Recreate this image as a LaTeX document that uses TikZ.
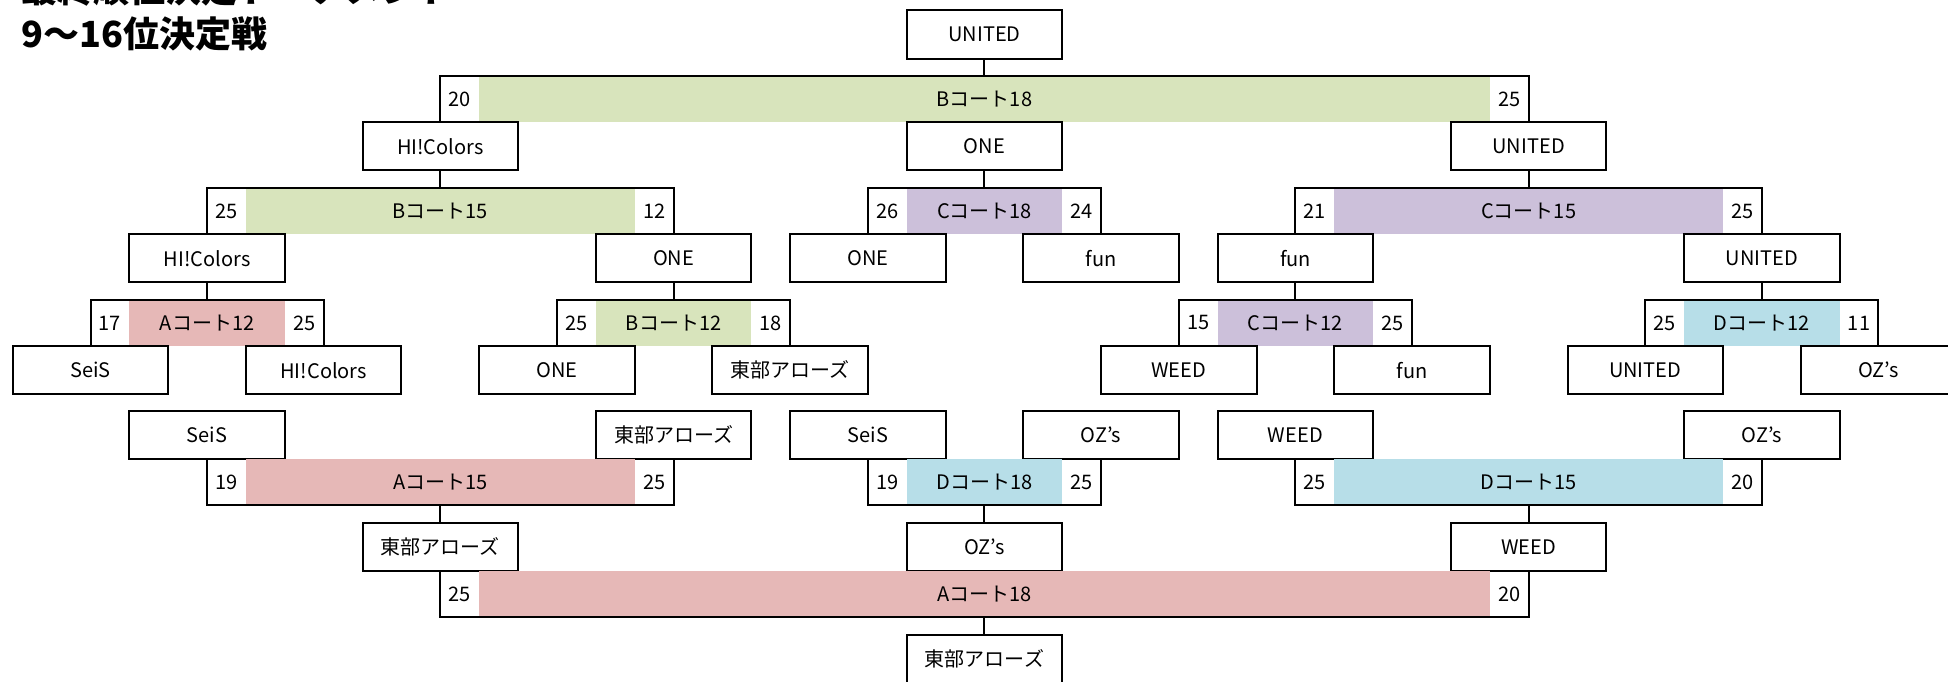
\documentclass[tikz,border=0pt]{standalone}
\usepackage{fontspec}
\setmainfont{Noto Sans CJK JP}
\usetikzlibrary{positioning}

\definecolor{courtA}{HTML}{E6B8B7}
\definecolor{courtB}{HTML}{D8E4BC}
\definecolor{courtC}{HTML}{CCC0DA}
\definecolor{courtD}{HTML}{B7DEE8}

\begin{document}
\begin{tikzpicture}[x=19.435pt, y=-0.5pt, line width=1pt, font=\fontsize{10pt}{12pt}\selectfont]
		\tikzstyle{team}=[draw=black, minimum width=77.74pt, minimum height=24.25pt, inner sep=0pt, outer sep=0pt]
		\tikzstyle{score}=[minimum width=19.435pt, minimum height=23pt, inner sep=0pt, outer sep=0pt]
		\tikzstyle{court}=[minimum height=23pt, inner sep=0pt, outer sep=0pt]
		\tikzstyle{heading}=[anchor=base west, inner sep=0pt, font=\bfseries\fontsize{18pt}{18pt}\selectfont]
		
		\useasboundingbox (-0.329,0) rectangle (49.79,682);
		\clip (-0.329,0) rectangle (49.79,682);
		
		\node[heading] (title1) at (0.2,2)  {最終順位決定トーナメント};
		\node[heading] (title2) at (0.2,47) {9〜16位決定戦};
		
		% upper bracket
		\node[team] (U) at (25,34.25) {UNITED};
		\node[court, fill=courtB, minimum width=505.31pt] (B18) at (25,99) {Bコート18};
		\node[score, left=0pt of B18]  (B18l) {20};
		\node[score, right=0pt of B18] (B18r) {25};
		
		\node[team] (HI2)  at (11,146.25) {HI!Colors};
		\node[team] (ONE2) at (25,146.25) {ONE};
		\node[team] (UN2)  at (39,146.25) {UNITED};
		
		\node[court, fill=courtB, minimum width=194.35pt] (B15) at (11,211) {Bコート15};
		\node[score, left=0pt of B15]  (B15l) {25};
		\node[score, right=0pt of B15] (B15r) {12};
		\node[court, fill=courtC, minimum width=77.74pt] (C18) at (25,211) {Cコート18};
		\node[score, left=0pt of C18]  (C18l) {26};
		\node[score, right=0pt of C18] (C18r) {24};
		\node[court, fill=courtC, minimum width=194.35pt] (C15) at (39,211) {Cコート15};
		\node[score, left=0pt of C15]  (C15l) {21};
		\node[score, right=0pt of C15] (C15r) {25};
		
		\node[team] (HI3)  at (5,258.25)  {HI!Colors};
		\node[team] (ONE3) at (17,258.25) {ONE};
		\node[team] (ONE3b) at (22,258.25) {ONE};
		\node[team] (FUN3b) at (28,258.25) {fun};
		\node[team] (FUN3) at (33,258.25) {fun};
		\node[team] (UN3)  at (45,258.25) {UNITED};
		
		\node[court, fill=courtA, minimum width=77.74pt] (A12) at (5,323) {Aコート12};
		\node[score, left=0pt of A12]  (A12l) {17};
		\node[score, right=0pt of A12] (A12r) {25};
		\node[court, fill=courtB, minimum width=77.74pt] (B12) at (17,323) {Bコート12};
		\node[score, left=0pt of B12]  (B12l) {25};
		\node[score, right=0pt of B12] (B12r) {18};
		\node[court, fill=courtC, minimum width=77.74pt] (C12) at (33,323) {Cコート12};
		\node[score, left=0pt of C12]  (C12l) {15};
		\node[score, right=0pt of C12] (C12r) {25};
		\node[court, fill=courtD, minimum width=77.74pt] (D12) at (45,323) {Dコート12};
		\node[score, left=0pt of D12]  (D12l) {25};
		\node[score, right=0pt of D12] (D12r) {11};
		
		\node[team] (SEI4)  at (2,370.25)  {SeiS};
		\node[team] (HI4)   at (8,370.25)  {HI!Colors};
		\node[team] (ONE4)  at (14,370.25) {ONE};
		\node[team] (TOB4)  at (20,370.25) {東部アローズ};
		\node[team] (WEED4) at (30,370.25) {WEED};
		\node[team] (FUN4)  at (36,370.25) {fun};
		\node[team] (UN4)   at (42,370.25) {UNITED};
		\node[team] (OZ4)   at (48,370.25) {OZ’s};
		
		\draw (U.south) -- (B18.north);
		\draw (HI2.north) |- (B18.north) -| (UN2.north);
		\draw (HI2.south) -- (B15.north);
		\draw (HI3.north) |- (B15.north) -| (ONE3.north);
		\draw (ONE2.south) -- (C18.north);
		\draw (ONE3b.north) |- (C18.north) -| (FUN3b.north);
		\draw (UN2.south) -- (C15.north);
		\draw (FUN3.north) |- (C15.north) -| (UN3.north);
		\draw (HI3.south) -- (A12.north);
		\draw (SEI4.north) |- (A12.north) -| (HI4.north);
		\draw (ONE3.south) -- (B12.north);
		\draw (ONE4.north) |- (B12.north) -| (TOB4.north);
		\draw (FUN3.south) -- (C12.north);
		\draw (WEED4.north) |- (C12.north) -| (FUN4.north);
		\draw (UN3.south) -- (D12.north);
		\draw (UN4.north) |- (D12.north) -| (OZ4.north);
		
		% lower bracket
		\node[team] (SEI5)  at (5,435.25)  {SeiS};
		\node[team] (TOB5)  at (17,435.25) {東部アローズ};
		\node[team] (SEI5b) at (22,435.25) {SeiS};
		\node[team] (OZ5b)  at (28,435.25) {OZ’s};
		\node[team] (WEED5) at (33,435.25) {WEED};
		\node[team] (OZ5)   at (45,435.25) {OZ’s};
		
		\node[court, fill=courtA, minimum width=194.35pt] (A15) at (11,482.5) {Aコート15};
		\node[score, left=0pt of A15]  (A15l) {19};
		\node[score, right=0pt of A15] (A15r) {25};
		\node[court, fill=courtD, minimum width=77.74pt] (D18) at (25,482.5) {Dコート18};
		\node[score, left=0pt of D18]  (D18l) {19};
		\node[score, right=0pt of D18] (D18r) {25};
		\node[court, fill=courtD, minimum width=194.35pt] (D15) at (39,482.5) {Dコート15};
		\node[score, left=0pt of D15]  (D15l) {25};
		\node[score, right=0pt of D15] (D15r) {20};
		
		\node[team] (TOB6)  at (11,547.25) {東部アローズ};
		\node[team] (OZ6)   at (25,547.25) {OZ’s};
		\node[team] (WEED6) at (39,547.25) {WEED};
		
		\node[court, fill=courtA, minimum width=505.31pt] (A18) at (25,594.5) {Aコート18};
		\node[score, left=0pt of A18]  (A18l) {25};
		\node[score, right=0pt of A18] (A18r) {20};
		
		\node[team] (TOB7) at (25,659.25) {東部アローズ};
		
		\draw (SEI5.south) |- (A15.south) -| (TOB5.south);
		\draw (A15.south) -- (TOB6.north);
		\draw (SEI5b.south) |- (D18.south) -| (OZ5b.south);
		\draw (D18.south) -- (OZ6.north);
		\draw (WEED5.south) |- (D15.south) -| (OZ5.south);
		\draw (D15.south) -- (WEED6.north);
		\draw (TOB6.south) |- (A18.south) -| (WEED6.south);
		\draw (A18.south) -- (TOB7.north);
	\end{tikzpicture}
\end{document}
